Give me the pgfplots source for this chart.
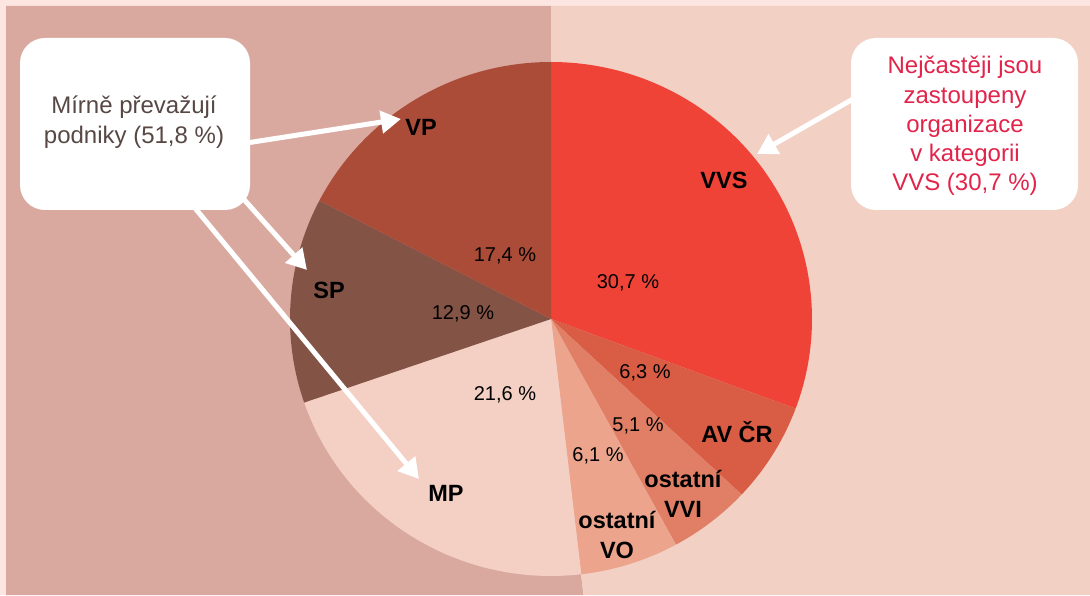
\documentclass[border=0pt]{standalone}
\usepackage{pgfplots}
\pgfplotsset{compat=1.18}
\usepackage{fontspec}
\setmainfont{Liberation Sans}
\usetikzlibrary{arrows.meta}

\definecolor{strip}{HTML}{FDE6E1}
\definecolor{bgdark}{HTML}{D9A9A0}
\definecolor{bglight}{HTML}{F2D0C4}
\definecolor{cVVS}{HTML}{EF4338}
\definecolor{cAV}{HTML}{D95C45}
\definecolor{cVVI}{HTML}{E07F66}
\definecolor{cVO}{HTML}{ECA48D}
\definecolor{cMP}{HTML}{F3D0C3}
\definecolor{cSP}{HTML}{835446}
\definecolor{cVP}{HTML}{AB4C39}
\definecolor{txtbrown}{HTML}{574844}
\definecolor{txtred}{HTML}{E2234A}

% pie data (percent)
\def\vVVS{30.7}\def\vAV{6.3}\def\vVVI{5.1}\def\vVO{6.1}\def\vMP{21.6}\def\vSP{12.9}\def\vVP{17.4}
\pgfmathsetmacro\total{\vVVS+\vAV+\vVVI+\vVO+\vMP+\vSP+\vVP}
\pgfmathsetmacro\aA{90}
\pgfmathsetmacro\aB{\aA-\vVVS*360/\total}
\pgfmathsetmacro\aC{\aB-\vAV*360/\total}
\pgfmathsetmacro\aD{\aC-\vVVI*360/\total}
\pgfmathsetmacro\aE{\aD-\vVO*360/\total}
\pgfmathsetmacro\aF{\aE-\vMP*360/\total}
\pgfmathsetmacro\aG{\aF-\vSP*360/\total}
\pgfmathsetmacro\aH{\aG-\vVP*360/\total}
\def\RX{261pt}
\def\RY{257pt}

\newcommand{\pieslice}[3]{\fill[#1] (axis cs:551,276) -- ++({\RX*cos(#2)},{\RY*sin(#2)}) arc[start angle=#2, end angle=#3, x radius=\RX, y radius=\RY] -- cycle;}

\begin{document}
\begin{tikzpicture}
\begin{axis}[scale only axis, width=1090pt, height=595pt,
  xmin=0, xmax=1090, ymin=0, ymax=595, enlargelimits=false,
  hide axis, clip=false]
% backgrounds
\addplot[fill=strip, draw=none] coordinates {(0,0) (1090,0) (1090,595) (0,595)} -- cycle;
\addplot[fill=bgdark, draw=none] coordinates {(6,0) (583.5,0) (551,276) (551,589) (6,589)} -- cycle;
\addplot[fill=bglight, draw=none] coordinates {(583.5,0) (1090,0) (1090,589) (551,589) (551,276)} -- cycle;
% pie
\pieslice{cVVS}{\aA}{\aB}
\pieslice{cAV}{\aB}{\aC}
\pieslice{cVVI}{\aC}{\aD}
\pieslice{cVO}{\aD}{\aE}
\pieslice{cMP}{\aE}{\aF}
\pieslice{cSP}{\aF}{\aG}
\pieslice{cVP}{\aG}{\aH}
% percent labels
\begin{scope}[every node/.style={font=\fontsize{20}{24}\selectfont, text=black}]
\node at (axis cs:505,339) {17,4 \%};
\node at (axis cs:628,312) {30,7 \%};
\node at (axis cs:463,281) {12,9 \%};
\node at (axis cs:645,222) {6,3 \%};
\node at (axis cs:638,169) {5,1 \%};
\node at (axis cs:598,139) {6,1 \%};
\node at (axis cs:505,200) {21,6 \%};
\end{scope}
% category labels
\begin{scope}[every node/.style={font=\bfseries\fontsize{23.5}{30}\selectfont, text=black, align=center}]
\node at (axis cs:421,468) {VP};
\node at (axis cs:724,415) {VVS};
\node at (axis cs:329,305) {SP};
\node at (axis cs:737,163) {AV ČR};
\node at (axis cs:683,101) {ostatní\\VVI};
\node at (axis cs:617,60) {ostatní\\VO};
\node at (axis cs:446,102) {MP};
\end{scope}
% arrows
\begin{scope}[white, line width=5pt, -{Triangle[length=20pt,width=22pt]}]
\draw (axis cs:240,451) -- (axis cs:401,476);
\draw (axis cs:240,400) -- (axis cs:307,325);
\draw (axis cs:190,393) -- (axis cs:419,116);
\draw (axis cs:860,500) -- (axis cs:757,441);
\end{scope}
% callout boxes
\fill[white, rounded corners=25pt] (axis cs:20,385) rectangle (axis cs:250,557);
\fill[white, rounded corners=25pt] (axis cs:851,385) rectangle (axis cs:1078,557);
\node[font=\fontsize{24}{30}\selectfont, text=txtbrown, align=center] at (axis cs:134,473) {Mírně převažují\\podniky (51,8 \%)};
\node[font=\fontsize{24}{29.2}\selectfont, text=txtred, align=center] at (axis cs:965,469) {Nejčastěji jsou\\zastoupeny\\organizace\\v kategorii\\VVS (30,7 \%)};
\end{axis}
\end{tikzpicture}
\end{document}
